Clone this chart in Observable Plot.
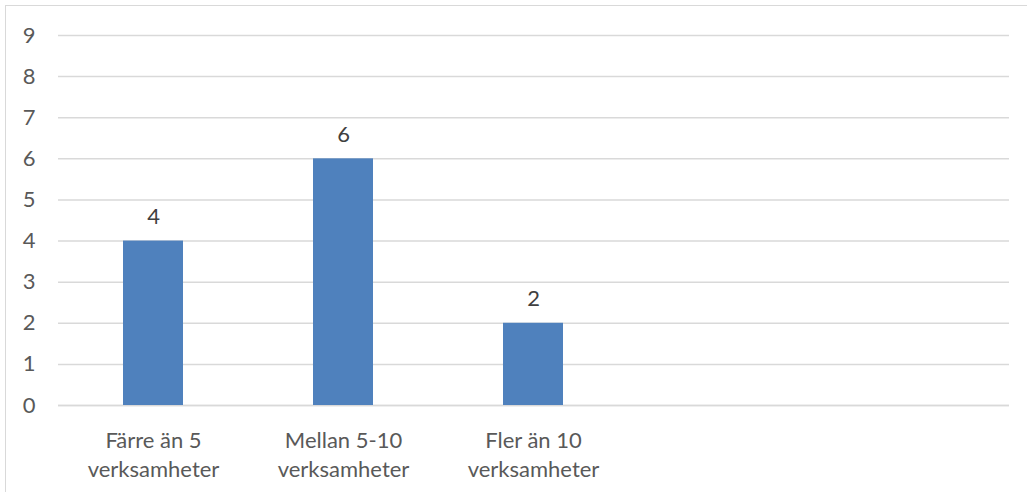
<!DOCTYPE html>
<html>
<head>
<meta charset="utf-8">
<script src="https://cdn.jsdelivr.net/npm/d3@7"></script>
<script src="https://cdn.jsdelivr.net/npm/@observablehq/plot@0.6"></script>
<style>
  html, body { margin: 0; padding: 0; background: #fff; overflow: hidden; }
  #wrap { position: relative; width: 1027px; height: 492px; }
  #border { position: absolute; left: 5px; top: 5px; width: 1040px; height: 500px; border: 1.5px solid #d9d9d9; box-sizing: border-box; }
  #chart { position: absolute; left: 0; top: 0; }
</style>
</head>
<body>
<div id="wrap"><div id="border"></div><div id="chart"></div></div>
<script>
const categories = ["Färre än 5\nverksamheter", "Mellan 5-10\nverksamheter", "Fler än 10\nverksamheter", "", " "];
const values = [4, 6, 2];
const yTicks = [0, 1, 2, 3, 4, 5, 6, 7, 8, 9];

const data = values.map((v, i) => ({cat: categories[i], value: v}));

const chart = Plot.plot({
  width: 1027,
  height: 492,
  marginLeft: 58,
  marginRight: 18,
  marginTop: 35,
  marginBottom: 87,
  style: {fontFamily: "Lato, 'Open Sans', sans-serif", fontSize: "22px", color: "#595959", background: "transparent"},
  x: {domain: categories, paddingInner: 0.684, paddingOuter: 0.342, label: null},
  y: {domain: [0, 9], label: null},
  marks: [
    Plot.gridY(yTicks, {stroke: "#d9d9d9", strokeOpacity: 1, strokeWidth: 1.5}),
    Plot.ruleY([0], {stroke: "#d9d9d9", strokeWidth: 1.5}),
    Plot.barY(data, {x: "cat", y: "value", fill: "#4f81bd"}),
    Plot.text(data, {x: "cat", y: "value", text: d => String(d.value), lineAnchor: "bottom", dy: -17, fill: "#404040", fontSize: 22}),
    Plot.axisY({ticks: yTicks, tickSize: 0, tickPadding: 23, fill: "#595959", fontSize: 22, label: null}),
    Plot.axisX({tickSize: 0, tickPadding: 22, lineHeight: 1.32, fill: "#595959", fontSize: 22, label: null})
  ]
});
document.getElementById("chart").appendChild(chart);
</script>
</body>
</html>
